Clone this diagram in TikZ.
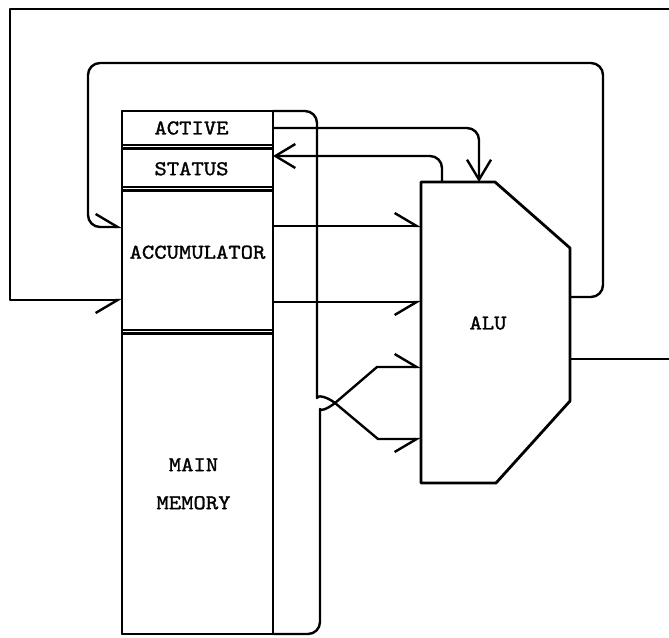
\documentclass[tikz,border=0pt]{standalone}
\usepackage{fontspec}
\newfontfamily\twfont{lmmono10-regular.otf}[FakeStretch=1.12,FakeBold=1.3]
\usetikzlibrary{arrows.meta}
\begin{document}
\begin{tikzpicture}[x=1pt,y=-1pt,
  line width=2.4pt, line cap=round, line join=round,
  sect/.style={draw, rectangle, inner sep=0pt, outer sep=0pt, minimum width=151pt, anchor=north west},
  lbl/.style={font=\twfont\fontsize{21}{38}\selectfont, inner sep=0pt, align=center},
  conn/.style={rounded corners=12pt},
  hl/.style={-{Straight Barb[left,length=22pt,width=26pt]}},
  hr/.style={-{Straight Barb[right,length=22pt,width=26pt]}},
  fa/.style={-{Straight Barb[length=20pt,width=24pt]}},
  alushape/.style={line width=2.8pt}
]
\useasboundingbox (0,0) rectangle (669,637);

% memory column
\node[sect, minimum height=34pt]    (active) at (122,111) {};
\node[sect, minimum height=38.5pt]  (status) at (122,148.5) {};
\node[sect, minimum height=139.5pt] (acc)    at (122,190.5) {};
\node[sect, minimum height=300.5pt] (mem)    at (122,333.5) {};
\draw (active.north west) rectangle (mem.south east);

\node[lbl] (tactive) at ([xshift=-6pt]active.center) {ACTIVE};
\node[lbl] (tstatus) at ([xshift=-6pt,yshift=-1pt]status.center) {STATUS};
\node[lbl] (tacc)    at ([yshift=8pt]acc.center) {ACCUMULATOR};
\node[lbl] (tmem)    at ([xshift=-4pt]mem.center) {MAIN\\MEMORY};

% ALU
\draw[alushape] (421,182) -- (495,182) -- (570,248) -- (570,401) -- (496,483) -- (421,483) -- cycle;
\node[lbl] (alu) at (488,323) {ALU};
\coordinate (aluin1)  at (421,226);
\coordinate (aluin2)  at (421,302);
\coordinate (aluin3)  at (421,367);
\coordinate (aluin4)  at (421,439);
\coordinate (alutop1) at (442,182);
\coordinate (alutop2) at (479,182);
\coordinate (aluout1) at (570,297);
\coordinate (aluout2) at (570,359);
\coordinate (extin)   at (669,9);
\coordinate (extout)  at (669,359);

% accumulator to ALU
\draw[hl] ([yshift=-35.5pt]acc.north east) -- (aluin1);
\draw[hr] ([yshift=28pt]acc.south east) -- (aluin2);

% active / status
\draw[conn,fa] (active.east) -- (active.east -| alutop2) -- (alutop2);
\draw[conn,fa] (alutop1) -- (alutop1 |- 0,156) -- ([yshift=-7.5pt]status.north east);

% ALU result loop back to accumulator
\draw[conn,hl] (aluout1) -- (603,297) -- (603,63) -- (88,63) -- (88,227) -- ([yshift=-36.5pt]acc.north west);

% external input
\draw[hr] (extin) -- (10,9) -- (10,300) -- ([yshift=30pt]acc.south west);

% output
\draw (aluout2) -- (extout);

% memory buses crossing into ALU
\draw[rounded corners=12pt, hr] (active.north east) -- (317,111) -- (317,386)
  [sharp corners] .. controls (317,395) and (326,396) .. (335,403) -- (378,439) -- (aluin4);
\draw[rounded corners=12pt, hl] (mem.south east) -- (320,634) -- (320,421)
  [sharp corners] .. controls (320,411) and (326,410) .. (335,403) -- (377,367) -- (aluin3);
\end{tikzpicture}
\end{document}
